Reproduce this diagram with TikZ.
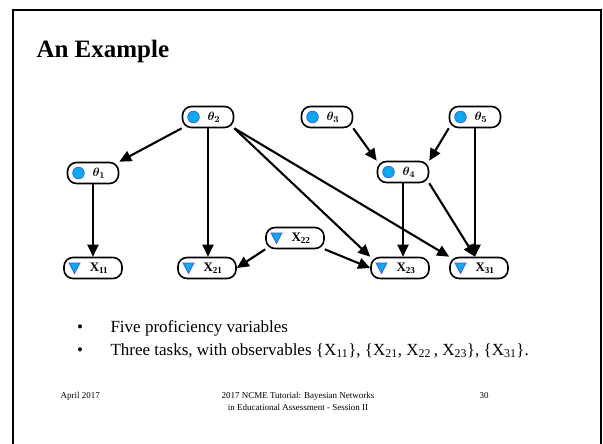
\documentclass[tikz,border=0pt]{standalone}
\usepackage{fontspec}
\setmainfont{Liberation Serif}
\usetikzlibrary{arrows.meta, positioning}

\begin{document}
\begin{tikzpicture}[
    x=1pt, y=-1pt,
    prof/.style={rectangle, draw, line width=1.6pt, rounded corners=9pt, minimum width=51pt, minimum height=21pt, inner sep=0pt,
        font=\fontsize{13}{13}\selectfont,
        path picture={\filldraw[sharp corners, fill=cyan, draw=blue!70, line width=0.7pt] ([xshift=11pt]path picture bounding box.west) circle (5.8pt);}},
    obs/.style={rectangle, draw, line width=1.6pt, rounded corners=9pt, minimum width=58pt, minimum height=21pt, inner sep=0pt,
        font=\bfseries\fontsize{13}{13}\selectfont,
        path picture={\filldraw[sharp corners, fill=cyan, draw=blue!70, line width=0.7pt] ([xshift=5pt, yshift=5pt]path picture bounding box.west) -- ++(11pt,0) -- ++(-5.5pt,-10.5pt) -- cycle;}},
    arrow/.style={-{Triangle[length=12pt, width=11pt]}, line width=2.1pt},
    body/.style={anchor=base west, font=\fontsize{17}{20}\selectfont},
    foot/.style={font=\fontsize{9}{11.5}\selectfont}
]
    \useasboundingbox (0,0) rectangle (603,444);

    % Slide frame
    \draw[line width=2.5pt] (13,444) -- (13,10) -- (601,10) -- (601,444);

    % Title
    \node[anchor=base west, font=\bfseries\fontsize{25}{30}\selectfont] (title) at (33,58) {An Example};

    % Proficiency variables
    \node[prof] (th2) at (208,117) {\hspace*{12pt}{\boldmath$\theta_2$}};
    \node[prof] (th3) at (327,117) {\hspace*{12pt}{\boldmath$\theta_3$}};
    \node[prof] (th5) at (475,117) {\hspace*{12pt}{\boldmath$\theta_5$}};
    \node[prof] (th1) at (93,173) {\hspace*{12pt}{\boldmath$\theta_1$}};
    \node[prof] (th4) at (403,172) {\hspace*{12pt}{\boldmath$\theta_4$}};

    % Observables
    \node[obs] (x22) at (295,238) {\hspace*{12pt}X\textsubscript{22}};
    \node[obs] (x11) at (93,268) {\hspace*{12pt}X\textsubscript{11}};
    \node[obs] (x21) at (207,268) {\hspace*{12pt}X\textsubscript{21}};
    \node[obs] (x23) at (400,268) {\hspace*{12pt}X\textsubscript{23}};
    \node[obs] (x31) at (479,268) {\hspace*{12pt}X\textsubscript{31}};

    % Arrows
    \draw[arrow] (th2.south west) -- (th1.north east);
    \draw[arrow] (th2.south) -- (th2.south |- x21.north);
    \draw[arrow] (th2.south east) -- (x23.north west);
    \draw[arrow] (th2.south east) -- (x31.north west);
    \draw[arrow] (th1.south) -- (th1.south |- x11.north);
    \draw[arrow] (th3.south east) -- (th4.north west);
    \draw[arrow] (th5.south west) -- (th4.north east);
    \draw[arrow] (th4.south) -- (th4.south |- x23.north);
    \draw[arrow] (th4.south east) -- (th5.south |- x31.north);
    \draw[arrow] (th5.south) -- (th5.south |- x31.north);
    \draw[arrow] (x22.south west) -- (x21.east);
    \draw[arrow] (x22.south east) -- (x23.west);

    % Bullets
    \node[body, anchor=base] (bul1) at (80,332) {\textbullet};
    \node[body] (item1) at (107,332) {Five proficiency variables};
    \node[body, anchor=base] (bul2) at (80,355) {\textbullet};
    \node[body] (item2) at (107,355) {Three tasks, with observables \{X\textsubscript{11}\}, \{X\textsubscript{21}, X\textsubscript{22}\,, X\textsubscript{23}\}, \{X\textsubscript{31}\}.};

    % Footer
    \node[foot, anchor=base west] (date) at (57,398) {April 2017};
    \node[foot, anchor=base, align=center] (event) at (298,410) {2017 NCME Tutorial: Bayesian Networks\\in Educational Assessment - Session II};
    \node[foot, anchor=base west] (page) at (476,398) {30};
\end{tikzpicture}
\end{document}
